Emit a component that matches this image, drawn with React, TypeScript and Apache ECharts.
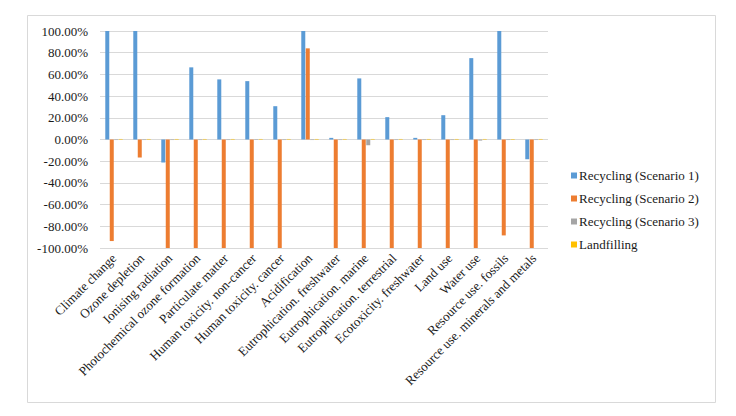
import React, { useEffect, useRef } from "react";
import * as echarts from "echarts";

const categories = [
  "Climate change",
  "Ozone depletion",
  "Ionising radiation",
  "Photochemical ozone formation",
  "Particulate matter",
  "Human toxicity. non-cancer",
  "Human toxicity. cancer",
  "Acidification",
  "Eutrophication. freshwater",
  "Eutrophication. marine",
  "Eutrophication. terrestrial",
  "Ecotoxicity. freshwater",
  "Land use",
  "Water use",
  "Resource use. fossils",
  "Resource use. minerals and metals",
];

const scenario1 = [100, 100, -21.2, 66.5, 55.4, 53.8, 30.7, 100, 1.5, 56.3, 20.6, 1.5, 22.4, 75, 100, -18.2];
const scenario2 = [-93.6, -16.6, -100, -100, -100, -100, -100, 84, -100, -100, -100, -100, -100, -100, -88.4, -100];
const scenario3 = [-0.5, -0.5, -0.5, -0.5, -0.5, -0.5, -0.5, -0.5, -0.5, -5.3, -0.5, -0.5, -0.5, -1, -0.5, -0.5];
const landfilling = [0.5, 0.5, 0.5, 0.5, 0.5, 0.5, 0.5, 0.5, 0.5, 0.5, 0.5, 0.5, 0.5, 0.5, 0.5, 0.5];

const seriesNames = [
  "Recycling (Scenario 1)",
  "Recycling (Scenario 2)",
  "Recycling (Scenario 3)",
  "Landfilling",
];
const colors = ["#5B9BD5", "#ED7D31", "#A5A5A5", "#FFC000"];

export default function App() {
  const ref = useRef<HTMLDivElement>(null);
  useEffect(() => {
    if (!ref.current) return;
    const chart = echarts.init(ref.current, undefined, { renderer: "svg" });
    const font = "Times New Roman, Liberation Serif, serif";
    const data = [scenario1, scenario2, scenario3, landfilling];
    chart.setOption({
      animation: false,
      color: colors,
      textStyle: { fontFamily: font },
      graphic: [
        {
          type: "rect",
          shape: { x: 27.5, y: 15.5, width: 688, height: 387 },
          style: { fill: "none", stroke: "#d9d9d9", lineWidth: 1 },
          silent: true,
        },
      ],
      grid: { left: 100, right: 188, top: 31, bottom: 168, containLabel: false },
      legend: {
        orient: "vertical",
        left: 566,
        top: 164,
        itemWidth: 6,
        itemHeight: 6,
        itemGap: 10,
        icon: "rect",
        textStyle: { fontFamily: font, fontSize: 13, color: "#1a1a1a", padding: [0, 0, 0, -3] },
        data: seriesNames,
      },
      xAxis: {
        type: "category",
        data: categories,
        axisLine: { show: false },
        axisTick: { show: false },
        axisLabel: {
          rotate: 45,
          interval: 0,
          margin: 8,
          fontFamily: font,
          fontSize: 13,
          color: "#1a1a1a",
        },
      },
      yAxis: {
        type: "value",
        min: -100,
        max: 100,
        interval: 20,
        axisLine: { show: false },
        axisTick: { show: false },
        axisLabel: {
          formatter: (v: number) => v.toFixed(2) + "%",
          fontFamily: font,
          fontSize: 13,
          color: "#1a1a1a",
          margin: 12,
        },
        splitLine: { lineStyle: { color: "#d9d9d9", width: 1 } },
      },
      series: seriesNames.map((name, i) => ({
        name,
        type: "bar",
        data: data[i],
        barWidth: 4,
        barGap: "12%",
        itemStyle: { color: colors[i] },
      })),
    });
    return () => chart.dispose();
  }, []);
  return (
    <div
      ref={ref}
      style={{ position: "fixed", left: 0, top: 0, width: 736, height: 416, background: "#fff" }}
    />
  );
}
